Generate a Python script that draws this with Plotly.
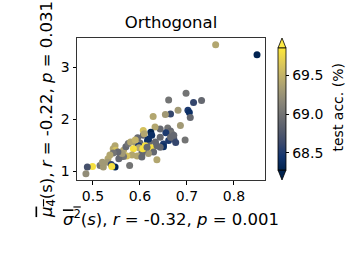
import plotly.graph_objects as go

# sigma^2(s) mean, mu_4(s) mean, test accuracy (%)
sigma2 = [0.761, 0.849, 0.698, 0.714, 0.731, 0.661, 0.681, 0.702, 0.705, 0.707,
          0.665, 0.654, 0.628, 0.686, 0.696, 0.659, 0.665, 0.667, 0.655, 0.643,
          0.632, 0.623, 0.625, 0.607, 0.607, 0.616, 0.620, 0.600, 0.592, 0.597,
          0.611, 0.625, 0.636, 0.650, 0.661, 0.672, 0.665, 0.650, 0.643, 0.629,
          0.618, 0.636, 0.607, 0.604, 0.598, 0.586, 0.583, 0.594, 0.565, 0.570,
          0.575, 0.580, 0.572, 0.578, 0.565, 0.558, 0.555, 0.562, 0.547, 0.543,
          0.548, 0.553, 0.543, 0.536, 0.532, 0.531, 0.539, 0.547, 0.540, 0.515,
          0.522, 0.499, 0.488, 0.485, 0.604, 0.606, 0.615, 0.595, 0.643, 0.633,
          0.618, 0.609, 0.672, 0.520, 0.590, 0.676]
mu4 = [3.43, 3.24, 2.50, 2.32, 2.36, 2.37, 2.17, 2.17, 2.13, 2.03,
       2.10, 2.09, 2.05, 1.88, 1.60, 1.83, 1.77, 1.73, 1.74, 1.81,
       1.85, 1.75, 1.69, 1.78, 1.69, 1.59, 1.56, 1.54, 1.53, 1.49,
       1.49, 1.45, 1.49, 1.52, 1.59, 1.62, 1.65, 1.47, 1.46, 1.37,
       1.34, 1.22, 1.40, 1.35, 1.45, 1.43, 1.31, 1.29, 1.40, 1.47,
       1.53, 1.56, 1.29, 1.11, 1.28, 1.27, 1.24, 1.34, 1.49, 1.43,
       1.40, 1.37, 1.35, 1.31, 1.24, 1.17, 1.13, 1.08, 1.09, 1.11,
       1.08, 1.09, 1.08, 0.95, 1.27, 1.43, 1.46, 1.64, 1.65, 1.56,
       1.62, 1.72, 1.69, 1.17, 1.60, 1.55]
test_acc = [69.4, 68.3, 69.0, 68.6, 68.9, 69.0, 69.3, 68.5, 68.4, 68.9,
            68.6, 69.3, 69.4, 69.3, 69.0, 69.0, 68.9, 69.0, 68.5, 68.9,
            69.4, 68.3, 68.4, 69.6, 68.9, 68.4, 68.9, 68.9, 69.3, 68.5,
            69.8, 69.8, 68.9, 68.5, 68.5, 68.7, 68.9, 68.4, 68.9, 68.9,
            69.3, 69.4, 69.0, 68.9, 69.4, 69.8, 69.4, 69.4, 69.4, 68.9,
            69.0, 69.4, 69.6, 69.0, 69.0, 69.0, 68.9, 69.3, 69.4, 69.4,
            69.6, 68.9, 69.0, 69.4, 69.4, 69.3, 68.6, 68.3, 69.8, 69.0,
            69.3, 69.8, 68.7, 69.2, 68.9, 69.8, 68.9, 68.9, 68.9, 68.9,
            68.4, 69.4, 68.9, 69.3, 69.5, 68.6]

x_ticks = [0.5, 0.6, 0.7, 0.8]
y_ticks = [1, 2, 3]
cb_ticks = [68.5, 69.0, 69.5]
cmin, cmax = 68.28, 69.85

W, H = 357, 255
ml, mr, mt, mb = 77, 92, 38, 75
font = "DejaVu Sans"
tick_size = 14
label_size = 16.5

fig = go.Figure()
fig.add_trace(go.Scatter(
    x=sigma2, y=mu4, mode="markers",
    marker=dict(size=7, color=test_acc, colorscale="Cividis", cmin=cmin, cmax=cmax,
                line=dict(width=0),
                colorbar=dict(
                    thickness=8, thicknessmode="pixels",
                    len=122, lenmode="pixels",
                    x=(278 - ml) / (W - ml - mr), xanchor="left", xpad=0,
                    y=0.5, yanchor="middle", ypad=0,
                    outlinewidth=0.8, outlinecolor="black",
                    tickvals=cb_ticks, ticktext=[f"{v:.1f}" for v in cb_ticks],
                    ticks="outside", ticklen=3.5, tickwidth=0.8, tickcolor="black",
                    tickfont=dict(size=tick_size, color="black", family=font),
                )),
    showlegend=False,
))

pw = W - ml - mr
ph = H - mt - mb
def px2paper(px, py):
    return (px - ml) / pw, (H - mb - py) / ph

# colorbar title
cx, cy = px2paper(337.5, 108)
fig.add_annotation(text="test acc. (%)", xref="paper", yref="paper", x=cx, y=cy,
                   xanchor="center", yanchor="middle", textangle=-90, showarrow=False,
                   font=dict(size=tick_size, color="black", family=font))

# colorbar extend triangles (paper coords)
cb_left, cb_right = 278, 286
bar_top, bar_bot = 48, 170
x0, _ = px2paper(cb_left, 0)
x1, _ = px2paper(cb_right, 0)
xm = (x0 + x1) / 2
_, yt = px2paper(0, bar_top)
_, ytt = px2paper(0, 38)
_, yb = px2paper(0, bar_bot)
_, ybb = px2paper(0, 180)
fig.add_shape(type="path", xref="paper", yref="paper",
              path=f"M {x0} {yt} L {xm} {ytt} L {x1} {yt} Z",
              fillcolor="rgb(253,234,69)", line=dict(color="black", width=0.8))
fig.add_shape(type="path", xref="paper", yref="paper",
              path=f"M {x0} {yb} L {xm} {ybb} L {x1} {yb} Z",
              fillcolor="rgb(0,34,78)", line=dict(color="black", width=0.8))

axis_common = dict(showgrid=False, zeroline=False, showline=True, linecolor="#333",
                   linewidth=1, mirror=True, ticks="outside", ticklen=3.5, tickwidth=0.8,
                   tickcolor="black", automargin=False,
                   tickfont=dict(size=tick_size, color="black", family=font))

fig.update_xaxes(range=[0.466, 0.866], tickvals=x_ticks,
                 ticktext=[f"{v:.1f}" for v in x_ticks],
                 title=dict(text="<span style='text-decoration:overline'><i>σ</i><sup>2</sup></span>(<i>s</i>), <i>r</i> = -0.32, <i>p</i> = 0.001",
                            font=dict(size=label_size, color="black", family=font), standoff=10),
                 **axis_common)
fig.update_yaxes(range=[0.83, 3.56], tickvals=y_ticks,
                 ticktext=[str(v) for v in y_ticks],
                 title=dict(text="<span style='text-decoration:overline'><i>μ</i><sub>4</sub></span>(s), <i>r</i> = -0.22, <i>p</i> = 0.031",
                            font=dict(size=label_size, color="black", family=font), standoff=4),
                 **axis_common)

fig.update_layout(
    width=W, height=H,
    margin=dict(l=ml, r=mr, t=mt, b=mb, autoexpand=False),
    paper_bgcolor="white", plot_bgcolor="white",
    title=dict(text="Orthogonal", x=171 / W, xanchor="center", y=1 - 22 / H, yanchor="middle",
               font=dict(size=label_size, color="black", family=font)),
    font=dict(family=font),
)

fig.write_html("out.html", config={"displayModeBar": False},
               post_script="document.body.style.margin='0';document.body.style.padding='0';")
